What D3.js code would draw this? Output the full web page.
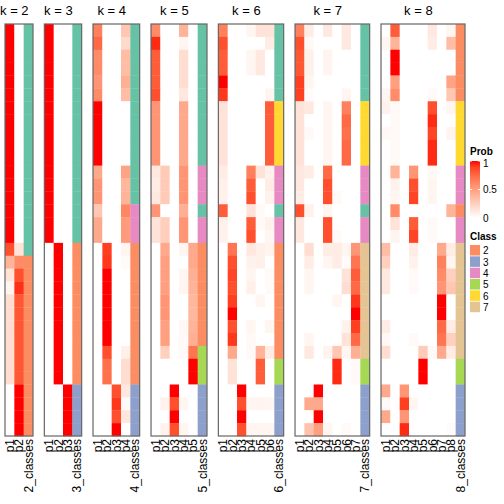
<!DOCTYPE html>
<html><head><meta charset="utf-8">
<script src="https://cdn.jsdelivr.net/npm/d3@7/dist/d3.min.js"></script>
<style>body{margin:0;background:#fff}svg{display:block}text{font-family:"Liberation Sans",Arial,sans-serif}</style>
</head><body><svg id="c" width="504" height="504"></svg>
<script>
const kValues = [2,3,4,5,6,7,8];
const classColors = {1:"#66C2A5",2:"#FC8D62",3:"#8DA0CB",4:"#E78AC3",5:"#A6D854",6:"#FFD92F",7:"#E5C494"};
const legendClasses = [2,3,4,5,6,7];
const probTicks = [0,0.5,1];

const probK2 = [
[1,0],[1,0],[1,0],[1,0],[1,0],[1,0],[1,0],[1,0],[1,0],[1,0],[1,0],[1,0],[1,0],[1,0],[1,0],[1,0],[1,0],
[0.85,0.15],[0.4,0.6],[0.15,0.85],[0.06,0.94],
[0.18,0.82],[0.18,0.82],[0.18,0.82],[0.18,0.82],[0.18,0.82],[0.18,0.82],[0.18,0.82],
[0,1],[0,1],[0,1],[0,1]];
const classK2 = [1,1,1,1,1,1,1,1,1,1,1,1,1,1,1,1,1,1,2,2,2,2,2,2,2,2,2,2,2,2,2,2];

const probK3 = [
[1,0,0],[1,0,0],[1,0,0],[1,0,0],[1,0,0],[1,0,0],[1,0,0],[1,0,0],[1,0,0],[1,0,0],[1,0,0],[1,0,0],[1,0,0],[1,0,0],[1,0,0],[1,0,0],[1,0,0],
[0,1,0],[0,1,0],[0,1,0],[0,1,0],[0,1,0],[0,1,0],[0,1,0],[0,1,0],[0,1,0],[0,1,0],[0,1,0],
[0,0,1],[0,0,1],[0,0,1],[0,0,1]];
const classK3 = [1,1,1,1,1,1,1,1,1,1,1,1,1,1,1,1,1,2,2,2,2,2,2,2,2,2,2,2,3,3,3,3];

const probK4 = [
[0.65,0,0,0.3],[0.75,0,0,0.2],[0.6,0,0,0.35],[0.6,0,0,0.35],[0.55,0,0,0.42],[0.6,0,0,0.35],
[1,0,0,0],[1,0,0,0],[1,0,0,0],[1,0,0,0],[1,0,0,0],
[0.45,0,0,0.48],[0.55,0,0,0.38],[0.55,0,0,0.4],[0.3,0,0,0.62],[0.45,0,0,0.52],[0.45,0,0,0.52],
[0,0.9,0,0.05],[0,0.92,0,0.03],[0,1,0,0],[0,1,0,0],[0,1,0,0],[0,1,0,0],[0,1,0,0],[0,1,0,0],
[0,0.85,0,0.08],[0,0.72,0,0.18],[0,0.72,0,0.18],
[0,0,0.85,0.12],[0,0,0.92,0.03],[0,0,0.85,0.13],[0,0,1,0]];
const classK4 = [1,1,1,1,1,1,1,1,1,1,1,1,1,1,4,4,4,2,2,2,2,2,2,2,2,2,2,2,3,3,3,3];

const probK5 = [
[0.6,0,0,0.4,0],[0.95,0,0,0.05,0],[0.8,0,0,0.18,0],[0.8,0,0,0.18,0],[0.8,0,0,0.18,0],[0.85,0,0,0.12,0],
[0.55,0,0,0.45,0],[0.55,0,0,0.45,0],[0.55,0,0,0.45,0],[0.55,0,0,0.45,0],[0.55,0,0,0.45,0],
[0.12,0.28,0,0.55,0],[0.1,0.28,0,0.55,0],[0.12,0.28,0,0.55,0],[0.55,0,0,0.42,0],[0.15,0.26,0,0.55,0],[0.15,0.26,0,0.55,0],
[0,0.45,0,0.05,0.45],[0,0.5,0,0,0.45],[0,0.5,0,0.05,0.42],[0,0.5,0,0.05,0.4],[0,0.55,0,0,0.38],[0,0.55,0,0,0.38],[0,0.5,0,0.04,0.4],[0,0.5,0,0.03,0.42],
[0,0.25,0,0.03,0.7],[0,0,0,0,1],[0,0,0,0,1],
[0,0,1,0,0],[0,0.07,0.85,0.05,0],[0,0,1,0,0],[0,0.07,0.85,0.05,0]];
const classK5 = [1,1,1,1,1,1,1,1,1,1,1,4,4,4,1,4,4,2,2,2,2,2,2,2,2,5,5,5,3,3,3,3];

const probK6 = [
[0.65,0,0,0.05,0.15,0.15],[0.85,0,0,0,0,0.1],[0.8,0,0,0.05,0.12,0],[0.8,0,0,0.05,0.12,0],[1,0,0,0,0,0],[0.92,0,0,0,0,0.06],
[0.15,0,0,0,0,0.8],[0.15,0,0,0,0,0.8],[0.15,0,0,0,0,0.8],[0.15,0,0,0,0,0.8],[0.15,0,0,0,0,0.8],
[0.1,0,0,0.65,0.15,0.07],[0.08,0,0,0.8,0,0.1],[0.07,0,0,0.85,0,0.07],[0.8,0,0,0.15,0.03,0],[0.08,0,0,0.8,0.03,0.07],[0.07,0,0,0.85,0,0.05],
[0,0.7,0,0.12,0.08,0.06],[0,0.85,0,0.07,0.08,0],[0,0.88,0,0.05,0,0.03],[0,0.85,0,0.08,0,0.03],[0,0.9,0,0,0.05,0],[0,1,0,0,0,0],[0,0.85,0,0.05,0,0.05],[0,0.92,0,0.03,0,0],
[0,0.45,0,0.03,0.4,0.1],[0,0.15,0,0,0.8,0],[0,0.15,0,0,0.8,0],
[0,0,1,0,0,0],[0,0,0.85,0.05,0.06,0.05],[0,0,1,0,0,0],[0,0,0.85,0.05,0.05,0.05]];
const classK6 = [1,1,1,1,1,1,6,6,6,6,6,4,4,4,1,4,4,2,2,2,2,2,2,2,2,2,5,5,3,3,3,3];

const probK7 = [
[0.65,0.1,0,0.12,0,0.12,0],[0.85,0.03,0,0,0,0.12,0],[0.82,0.08,0,0.06,0,0,0],[0.82,0.08,0,0.06,0,0,0],[0.9,0.05,0,0,0,0,0],[0.9,0.02,0,0,0,0.05,0],
[0.15,0.12,0,0.05,0,0.65,0],[0.15,0,0,0.05,0,0.75,0],[0.15,0.03,0,0.05,0,0.72,0],[0.15,0,0,0.05,0,0.75,0],[0.15,0,0,0.05,0,0.75,0],
[0.12,0.1,0,0.75,0,0,0],[0.12,0,0,0.85,0,0,0],[0.1,0,0,0.85,0.03,0,0],[0.85,0.07,0,0.05,0,0,0],[0.12,0,0,0.85,0,0,0],[0.12,0,0,0.85,0.03,0,0],
[0,0.18,0,0.1,0.1,0.05,0.55],[0,0.1,0,0.05,0.1,0.02,0.7],[0,0.05,0,0,0,0.15,0.8],[0,0.05,0,0,0,0.18,0.75],[0,0,0,0,0.05,0,0.92],[0,0,0,0,0,0,1],[0,0,0,0,0,0.07,0.9],[0,0.05,0,0,0,0.15,0.75],
[0,0.12,0,0.06,0.3,0.05,0.42],[0,0,0,0,0.95,0,0.03],[0,0,0,0,0.95,0,0.03],
[0,0,1,0,0,0,0],[0,0.45,0.45,0,0,0,0],[0,0,1,0,0,0,0],[0,0.32,0.5,0.05,0,0.03,0]];
const classK7 = [1,1,1,1,1,1,6,6,6,6,6,4,4,4,1,4,4,7,7,7,7,7,7,7,7,7,5,5,3,3,3,3];

const probK8 = [
[0,0.8,0,0,0,0.12,0,0.05],[0.05,0.4,0,0,0,0.1,0,0.35],[0,1,0,0,0,0,0,0],[0,1,0,0,0,0,0,0],[0,0.5,0,0,0,0,0,0.48],[0.05,0.6,0,0,0,0.03,0,0.3],
[0.07,0.03,0,0,0,0.85,0,0.05],[0,0.03,0,0,0,0.95,0,0],[0.04,0.03,0,0,0,0.88,0,0.06],[0,0.03,0,0,0,0.95,0,0],[0,0.03,0,0,0,0.95,0,0],
[0,0.4,0,0.55,0,0.04,0,0],[0,0.07,0,0.85,0,0.05,0,0],[0,0.05,0,0.88,0,0.05,0,0],[0,0.6,0,0,0,0,0,0.4],[0,0.15,0,0.8,0,0.03,0,0],[0,0.06,0,0.88,0,0.03,0,0],
[0.35,0,0,0.1,0,0,0.45,0.1],[0.25,0,0,0.07,0,0,0.65,0.05],[0.12,0,0,0.03,0,0,0.6,0.25],[0.12,0,0,0.03,0,0,0.55,0.3],[0,0,0,0,0,0,1,0],[0,0,0,0,0,0,1,0],[0.1,0,0,0,0,0,0.75,0.1],[0.04,0,0,0.03,0,0,0.7,0.25],
[0.18,0,0,0,0.28,0.03,0.45,0.1],[0,0,0,0,1,0,0,0],[0,0,0,0,1,0,0,0],
[0.45,0,0.55,0,0,0,0,0],[0.03,0,0.9,0.05,0,0,0,0],[0.45,0,0.55,0,0,0,0,0],[0,0,0.95,0,0,0,0,0.02]];
const classK8 = [2,2,2,2,2,2,6,6,6,6,6,4,4,4,2,4,4,7,7,7,7,7,7,7,7,7,5,5,3,3,3,3];

const probs = {2:probK2,3:probK3,4:probK4,5:probK5,6:probK6,7:probK7,8:probK8};
const classes = {2:classK2,3:classK3,4:classK4,5:classK5,6:classK6,7:classK7,8:classK8};

const svg = d3.select("#c");
const nRows = 32;
const yTop = 24, yBottom = 436, xLeft = 5, xRight = 465;
const totalCols = d3.sum(kValues, k => k + 1);
const gap = 11.35;
const colW = (xRight - xLeft - gap * (kValues.length - 1)) / totalCols;
const y = d3.scaleBand().domain(d3.range(nRows)).range([yTop, yBottom]);
const color = d3.scaleLinear().domain([0, 1]).range(["#ffffff", "#ff0000"]).interpolate(d3.interpolateLab);

let x0 = xLeft;
kValues.forEach(k => {
  const cols = d3.range(1, k + 1).map(i => "p" + i).concat([k + "_classes"]);
  const x = d3.scaleBand().domain(cols).range([x0, x0 + cols.length * colW]);
  const g = svg.append("g");
  const P = probs[k], C = classes[k];
  const cells = [];
  P.forEach((row, r) => row.forEach((v, j) => cells.push({r, c: cols[j], v})));
  g.selectAll("rect.cell").data(cells).join("rect")
    .attr("x", d => x(d.c)).attr("y", d => y(d.r))
    .attr("width", x.bandwidth() + 0.3).attr("height", y.bandwidth() + 0.3)
    .attr("fill", d => color(d.v));
  g.selectAll("rect.cls").data(C).join("rect")
    .attr("x", x(cols[k])).attr("y", (d, i) => y(i))
    .attr("width", x.bandwidth()).attr("height", y.bandwidth() + 0.3)
    .attr("fill", d => classColors[d]);
  g.append("rect").attr("x", x0).attr("y", yTop)
    .attr("width", cols.length * colW).attr("height", yBottom - yTop)
    .attr("fill", "none").attr("stroke", "#666").attr("stroke-width", 1.2);
  const probCenter = (x(cols[0]) + x(cols[k - 1]) + x.bandwidth()) / 2;
  g.append("text").attr("x", probCenter).attr("y", 15).attr("text-anchor", "middle")
    .attr("font-size", 13).attr("fill", "#000").text("k = " + k);
  g.selectAll("text.lab").data(cols).join("text")
    .attr("transform", d => `translate(${x(d) + x.bandwidth() / 2},${yBottom + 3}) rotate(-90)`)
    .attr("text-anchor", "end").attr("dy", "0.35em").attr("font-size", 12).attr("fill", "#000")
    .text(d => d);
  x0 += cols.length * colW + gap;
});

// Prob legend
const lx = 470, lw = 10, ly0 = 161, ly1 = 218;
svg.append("text").attr("x", lx).attr("y", 154.5).attr("font-size", 10).attr("font-weight", "bold").text("Prob");
const defs = svg.append("defs");
const grad = defs.append("linearGradient").attr("id", "pg").attr("x1", 0).attr("y1", 1).attr("x2", 0).attr("y2", 0);
d3.range(0, 1.0001, 0.1).forEach(t => grad.append("stop").attr("offset", t).attr("stop-color", color(t)));
svg.append("rect").attr("x", lx).attr("y", ly0).attr("width", lw).attr("height", ly1 - ly0).attr("fill", "url(#pg)");
const ly = d3.scaleLinear().domain([0, 1]).range([ly1, ly0]);
probTicks.forEach(t => {
  svg.append("line").attr("x1", lx).attr("x2", lx + 2).attr("y1", ly(t)).attr("y2", ly(t)).attr("stroke", "#fff");
  svg.append("line").attr("x1", lx + lw - 2).attr("x2", lx + lw).attr("y1", ly(t)).attr("y2", ly(t)).attr("stroke", "#fff");
  svg.append("text").attr("x", lx + lw + 3).attr("y", t === 1 ? ly(t) + 2 : ly(t)).attr("dy", "0.35em").attr("font-size", 10).text(t);
});

// Class legend
svg.append("text").attr("x", lx).attr("y", 240).attr("font-size", 10).attr("font-weight", "bold").text("Class");
const cy = d3.scaleBand().domain(legendClasses).range([245, 313]);
legendClasses.forEach(c => {
  svg.append("rect").attr("x", lx).attr("y", cy(c)).attr("width", lw).attr("height", cy.bandwidth() - 0.8).attr("fill", classColors[c]);
  svg.append("text").attr("x", lx + lw + 3).attr("y", cy(c) + cy.bandwidth() / 2).attr("dy", "0.35em").attr("font-size", 10).text(c);
});
</script></body></html>
